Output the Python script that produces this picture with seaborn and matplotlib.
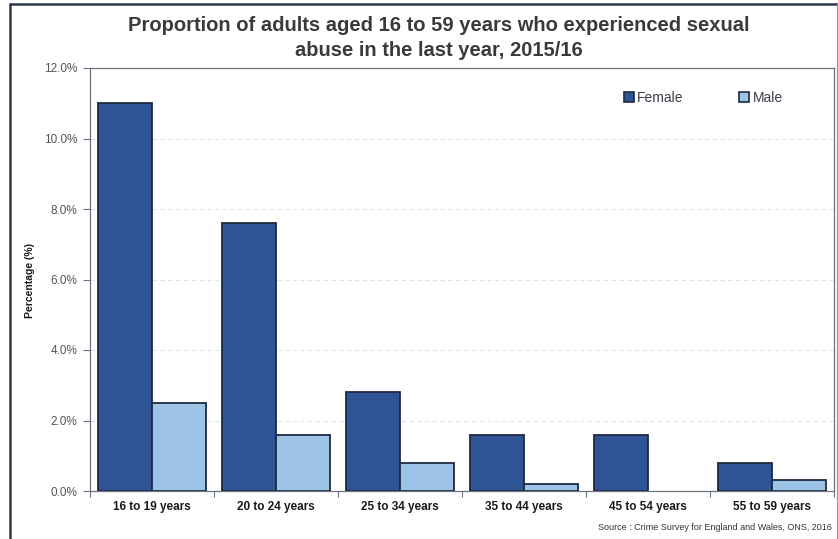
import matplotlib
matplotlib.use("Agg")
import matplotlib.pyplot as plt
import seaborn as sns
import pandas as pd
from matplotlib.lines import Line2D
from matplotlib.patches import Patch
from matplotlib.ticker import FuncFormatter, FixedLocator

categories = ["16 to 19 years", "20 to 24 years", "25 to 34 years",
              "35 to 44 years", "45 to 54 years", "55 to 59 years"]
female = [11.0, 7.6, 2.8, 1.6, 1.6, 0.8]
male = [2.5, 1.6, 0.8, 0.2, 0.0, 0.3]
series = ["Female", "Male"]
colors = {"Female": "#2E5496", "Male": "#9DC3E6"}
yticks = [0, 2, 4, 6, 8, 10, 12]

df = pd.DataFrame({
    "Age": categories * 2,
    "Sex": ["Female"] * len(categories) + ["Male"] * len(categories),
    "Value": female + male,
})

sns.set_theme(style="white")
plt.rcParams["font.family"] = ["Liberation Sans", "DejaVu Sans"]

fig = plt.figure(figsize=(8.38, 5.39), dpi=100)
ax = fig.add_axes([90 / 838, 1 - 491 / 539, 744 / 838, 423 / 539])

sns.barplot(data=df, x="Age", y="Value", hue="Sex", order=categories,
            hue_order=series, palette=colors, width=0.87, gap=0,
            edgecolor="#1E2B3F", linewidth=1.3, ax=ax, legend=False,
            saturation=1)
for p in ax.patches:
    if p.get_height() == 0:
        p.set_linewidth(0)

ax.set_ylim(0, 12)
ax.set_xlim(-0.5, 5.5)
ax.yaxis.set_major_locator(FixedLocator(yticks))
ax.yaxis.set_major_formatter(FuncFormatter(lambda v, p: f"{v:.1f}%"))
for yv in yticks[1:-1]:
    ax.axhline(yv, color="#DCE4EE", lw=0.8, ls=(0, (4, 3)), zorder=0)

for s in ax.spines.values():
    s.set_color("#6B7280")
    s.set_linewidth(0.9)

ax.tick_params(axis="y", which="major", left=True, length=5, width=0.8,
               color="#6B7280", labelsize=8.5, labelcolor="#555555", pad=4)
ax.tick_params(axis="x", which="major", bottom=False, length=0,
               labelsize=8.5, labelcolor="#1A1A1A", pad=7)
for lab in ax.get_xticklabels():
    lab.set_fontweight("bold")
ax.set_xticks([i - 0.5 for i in range(7)], minor=True)
ax.tick_params(axis="x", which="minor", bottom=True, length=4, width=0.8,
               color="#6B7280")

ax.set_xlabel("")
ax.set_ylabel("")
fig.text(30 / 838, 1 - 280 / 539, "Percentage (%)", rotation=90,
         ha="center", va="center", fontsize=7.5, fontweight="bold",
         color="#1A1A1A")

handles = [Patch(facecolor=colors[s], edgecolor="#1E2B3F", linewidth=1.2,
                 label=s) for s in series]
leg = ax.legend(handles=handles, loc="center left",
                bbox_to_anchor=((624 - 90) / 744, (491 - 98) / 423),
                ncol=2, frameon=False, handlelength=0.7, handleheight=0.7,
                handletextpad=0.25, columnspacing=4.0, fontsize=10,
                borderaxespad=0, borderpad=0)
for t in leg.get_texts():
    t.set_color("#3A3F4A")

fig.text(439 / 838, 1 - 38 / 539,
         "Proportion of adults aged 16 to 59 years who experienced sexual\nabuse in the last year, 2015/16",
         ha="center", va="center", fontsize=14.5, fontweight="bold",
         color="#3A3A3A", linespacing=1.35)

fig.text(832 / 838, 1 - 527 / 539,
         "Source : Crime Survey for England and Wales, ONS, 2016",
         ha="right", va="center", fontsize=6.5, color="#333333")

# outer frame
fig.add_artist(Line2D([10 / 838, 10 / 838], [0, 1 - 4 / 539],
                      transform=fig.transFigure, color="#2F3A4A", lw=1.8))
fig.add_artist(Line2D([10 / 838, 1], [1 - 4 / 539, 1 - 4 / 539],
                      transform=fig.transFigure, color="#2F3A4A", lw=1.8))
fig.add_artist(Line2D([837 / 838, 837 / 838], [0, 1 - 4 / 539],
                      transform=fig.transFigure, color="#8A93A0", lw=0.8))

fig.savefig("out.png", dpi=100)
